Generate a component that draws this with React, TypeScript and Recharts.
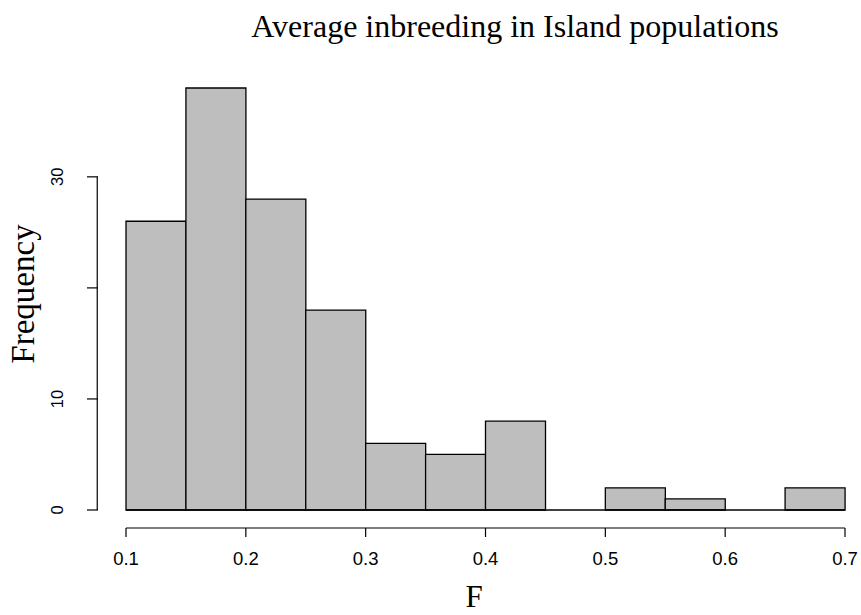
import React from 'react';
import { BarChart, Bar, XAxis, YAxis, ReferenceLine } from 'recharts';

// histogram of F, bins of width 0.05
const bins = ['0.10-0.15', '0.15-0.20', '0.20-0.25', '0.25-0.30', '0.30-0.35', '0.35-0.40',
  '0.40-0.45', '0.45-0.50', '0.50-0.55', '0.55-0.60', '0.60-0.65', '0.65-0.70'];
const mids = [0.125, 0.175, 0.225, 0.275, 0.325, 0.375, 0.425, 0.475, 0.525, 0.575, 0.625, 0.675];
const counts = [26, 38, 28, 18, 6, 5, 8, 0, 2, 1, 0, 2];

const xTicks = [0.1, 0.2, 0.3, 0.4, 0.5, 0.6, 0.7];
const yTicks = [0, 10, 20, 30];
const yTickLabels = ['0', '10', '', '30'];

const data = bins.map((b, i) => ({ bin: b, mid: mids[i], count: counts[i] }));

const SERIF = '"Liberation Serif", "Times New Roman", serif';
const SANS = '"Liberation Sans", Arial, sans-serif';
const AXIS_GAP = 28; // R puts the y axis 4% left of the data range
const AXIS_X = 0.076;

const YTick = (props: any) => {
  const { x, y, payload, index } = props;
  const ax = x - AXIS_GAP;
  const lx = ax - 41;
  return (
    <g>
      <line x1={ax - 11} x2={ax} y1={y} y2={y} stroke="#000" strokeWidth={1.2} />
      <text x={lx} y={y} dy="0.36em" textAnchor="middle" transform={`rotate(-90 ${lx} ${y})`}
        fontSize={16.5} fontFamily={SANS} fill="#000">
        {yTickLabels[index] ?? payload.value}
      </text>
    </g>
  );
};

const App: React.FC = () => {
  return (
    <div style={{ position: 'absolute', left: 0, top: 0, background: '#fff' }}>
      <BarChart width={861} height={615} data={data}
        margin={{ top: 88, right: 16, left: 0, bottom: 0 }}
        barCategoryGap={0} barGap={0}>
        <XAxis xAxisId="bins" dataKey="bin" height={18} axisLine={false} tickLine={false} tick={false} />
        <XAxis xAxisId="num" dataKey="mid" type="number" domain={[0.1, 0.7]} ticks={xTicks}
          height={87} allowDataOverflow
          axisLine={{ stroke: '#000', strokeWidth: 1.2 }} tickLine={{ stroke: '#000', strokeWidth: 1.2 }}
          tickSize={9} tickMargin={15}
          tick={{ fontSize: 18.5, fontFamily: SANS, fill: '#000' }} />
        <YAxis domain={[0, 38]} ticks={yTicks} width={126} axisLine={false} tickLine={false}
          tickSize={0} tickMargin={0} tick={<YTick />} />
        <ReferenceLine y={0} xAxisId="bins" stroke="#000" strokeWidth={1.3} />
        <Bar dataKey="count" xAxisId="bins" fill="#BEBEBE" stroke="#000" strokeWidth={1.3}
          isAnimationActive={false} />
        <ReferenceLine xAxisId="num" ifOverflow="visible" stroke="#000" strokeWidth={1.2}
          segment={[{ x: AXIS_X, y: 0 }, { x: AXIS_X, y: 30 }]} />
        <text x={515} y={37} textAnchor="middle" fontSize={32} fontFamily={SERIF} fill="#000">
          Average inbreeding in Island populations
        </text>
        <text x={34} y={294} textAnchor="middle" fontSize={33} fontFamily={SERIF} fill="#000"
          transform="rotate(-90 34 294)">
          Frequency
        </text>
        <text x={474} y={607} textAnchor="middle" fontSize={31} fontFamily={SERIF} fill="#000">
          F
        </text>
      </BarChart>
    </div>
  );
};

export default App;
